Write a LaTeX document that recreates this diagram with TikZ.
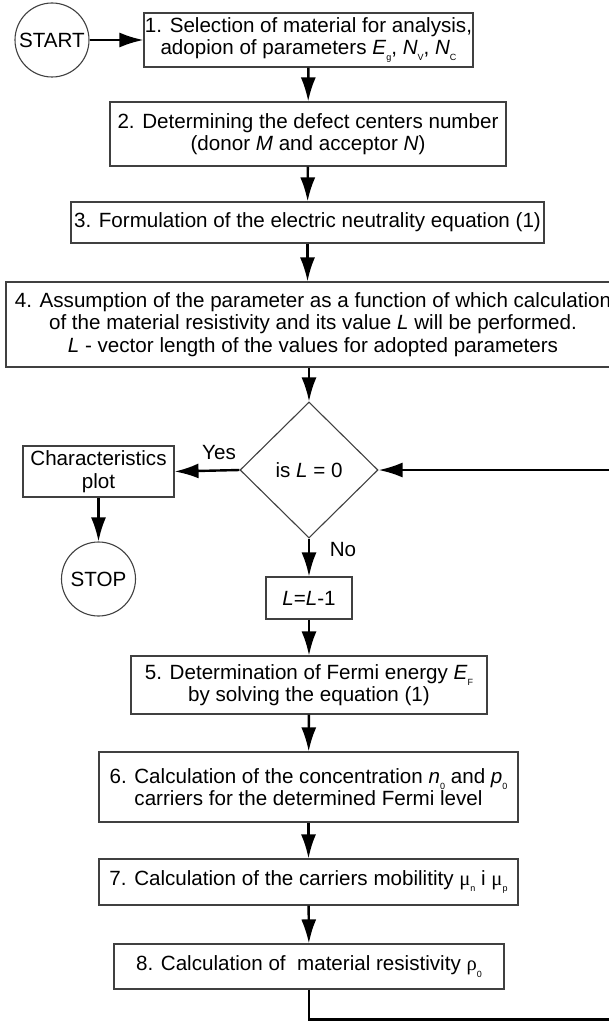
\documentclass[tikz,border=0pt]{standalone}
\usepackage{fontspec}
\setmainfont{Liberation Sans}
\newfontfamily\grk{Liberation Serif}
\usetikzlibrary{arrows.meta,shapes.geometric}
\newcommand{\lowidx}[1]{\raisebox{-0.3em}{\fontsize{9}{9}\selectfont #1}}
\tikzset{
  box/.style={draw=black!75, line width=1.1pt, rectangle, inner sep=0pt, align=center,
    font=\fontsize{20.6}{22.5}\selectfont},
  term/.style={draw=black!75, line width=1.1pt, circle, inner sep=0pt, minimum size=74pt,
    font=\fontsize{20.6}{22.5}\selectfont},
  conn/.style={line width=2.4pt, -{Latex[length=24pt,width=15pt]}},
  lbl/.style={font=\fontsize{20.6}{22.5}\selectfont, inner sep=0pt}
}
\begin{document}
\begin{tikzpicture}[x=1pt,y=-1pt]
\useasboundingbox (0,0) rectangle (608,1022);
\node[term] (start) at (52,40) {START};
\node[box, minimum width=329pt, minimum height=54pt] (b1) at (308.5,40)
  {1. Selection of material for analysis,\\adopion of parameters \textit{E}\lowidx{g}, \textit{N}\lowidx{V}, \textit{N}\lowidx{C}};
\node[box, minimum width=396pt, minimum height=64pt] (b2) at (308,134)
  {2. Determining the defect centers number\\(donor \textit{M} and acceptor \textit{N})};
\node[box, minimum width=473pt, minimum height=41pt] (b3) at (307.5,222.5)
  {3. Formulation of the electric neutrality equation (1)};
\node[box, minimum width=614pt, minimum height=85pt] (b4) at (313,324.5)
  {4. Assumption of the parameter as a function of which calculation\\of the material resistivity and its value \textit{L} will be performed.\\\textit{L} - vector length of the values for adopted parameters};
\node[draw=black!75, line width=1.1pt, diamond, inner sep=0pt, minimum width=138pt, minimum height=136pt,
  font=\fontsize{20.6}{22.5}\selectfont] (dia) at (309,470) {is \textit{L} = 0};
\node[box, minimum width=151pt, minimum height=51pt] (ch) at (98.5,471.5) {Characteristics\\plot};
\node[term] (stop) at (98.5,579) {STOP};
\node[box, minimum width=86pt, minimum height=42pt] (lb) at (309,598) {\textit{L}=\textit{L}-1};
\node[box, minimum width=356pt, minimum height=58pt] (b5) at (309,685)
  {5. Determination of Fermi energy \textit{E}\lowidx{F}\\by solving the equation (1)};
\node[box, minimum width=419pt, minimum height=70pt] (b6) at (308.5,787)
  {6. Calculation of the concentration \textit{n}\lowidx{0} and \textit{p}\lowidx{0}\\carriers for the determined Fermi level};
\node[box, minimum width=419pt, minimum height=46pt] (b7) at (308.5,882)
  {7. Calculation of the carriers mobilitity {\grk μ}\lowidx{n} i {\grk μ}\lowidx{p}};
\node[box, minimum width=390pt, minimum height=45pt] (b8) at (309,966.5)
  {8. Calculation of\ \ material resistivity {\grk ρ}\lowidx{0}};
\node[lbl] (yes) at (219,453) {Yes};
\node[lbl] (no) at (343,550) {No};
\coordinate (c1) at (309,1019.5);
\coordinate (c2) at (626,1019.5);
\coordinate (c3) at (626,470);
\draw[conn] (start) -- (b1);
\draw[conn] (b1) -- (b2);
\draw[conn] (b2) -- (b3);
\draw[conn] (b3.south) -- (b3.south |- b4.north);
\draw[conn] (b4.south -| dia.north) -- (dia.north);
\draw[conn] (dia.west) -- (ch.east);
\draw[conn] (ch) -- (stop);
\draw[conn] (dia.south) -- (lb.north);
\draw[conn] (lb) -- (b5);
\draw[conn] (b5) -- (b6);
\draw[conn] (b6) -- (b7);
\draw[conn] (b7) -- (b8);
\draw[conn] (b8.south) -- (c1) -- (c2) -- (c3) -- (dia.east);
\end{tikzpicture}
\end{document}
